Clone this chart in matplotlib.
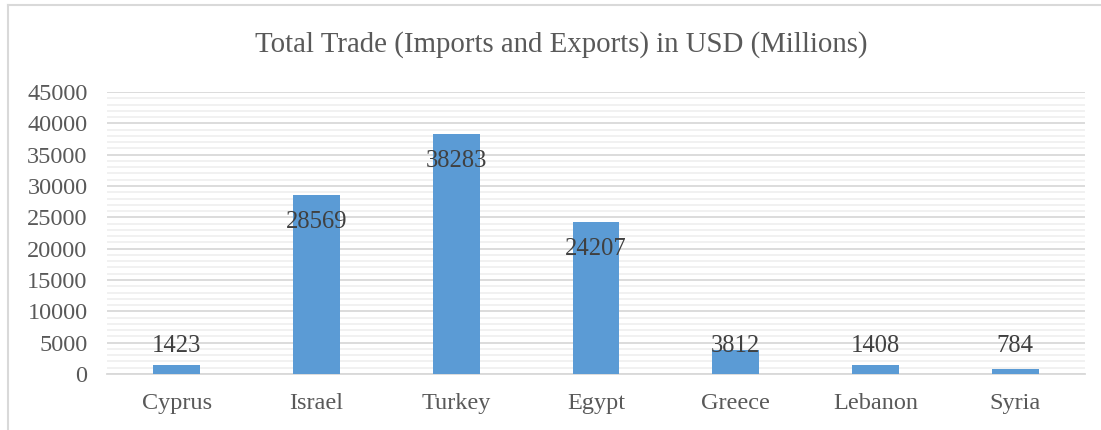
import matplotlib.pyplot as plt
from matplotlib.lines import Line2D
from matplotlib.ticker import MultipleLocator

countries = ["Cyprus", "Israel", "Turkey", "Egypt", "Greece", "Lebanon", "Syria"]
trade = [1423, 28569, 38283, 24207, 3812, 1408, 784]
yticks = list(range(0, 45001, 5000))

plt.rcParams["font.family"] = ["Liberation Serif", "DejaVu Serif"]

fig = plt.figure(figsize=(11.01, 4.30), dpi=100)
ax = fig.add_axes([107 / 1101, 1 - 374 / 430, 978 / 1101, 282 / 430])

x = range(len(countries))
ax.bar(x, trade, width=0.335, color="#5B9BD5", zorder=3)

# Excel-style labels: inside the top of tall bars, at a fixed height for short ones
for i, v in zip(x, trade):
    ax.text(i, max(v - 4300, 4400), str(v), ha="center", va="center",
            fontsize=17.7, color="#404040", zorder=4)

ax.set_xlim(-0.5, len(countries) - 0.5)
ax.set_ylim(0, 45000)
ax.set_yticks(yticks)
ax.yaxis.set_minor_locator(MultipleLocator(1000))
ax.grid(axis="y", which="major", color="#D9D9D9", linewidth=1.3, zorder=1)
ax.grid(axis="y", which="minor", color="#F0F0F0", linewidth=1.3, zorder=0)
ax.set_xticks(list(x))
ax.set_xticklabels(countries)
ax.tick_params(axis="both", which="both", length=0, labelsize=17.5,
               colors="#595959", pad=14)
ax.tick_params(axis="y", pad=14)
for s in ["top", "right", "left"]:
    ax.spines[s].set_visible(False)
ax.spines["bottom"].set_color("#D9D9D9")
ax.spines["bottom"].set_linewidth(1.3)

fig.text(561 / 1101, 1 - 45 / 430, "Total Trade (Imports and Exports) in USD (Millions)",
         ha="center", va="center", fontsize=20.8, color="#595959")

# chart frame: only the top and left edges show in the crop
fx, fy = 8 / 1101, 1 - 5 / 430
fig.add_artist(Line2D([fx, 1], [fy, fy], transform=fig.transFigure,
                      color="#D9D9D9", linewidth=1.5))
fig.add_artist(Line2D([fx, fx], [0, fy], transform=fig.transFigure,
                      color="#D9D9D9", linewidth=1.5))

fig.savefig("out.png", dpi=100)
